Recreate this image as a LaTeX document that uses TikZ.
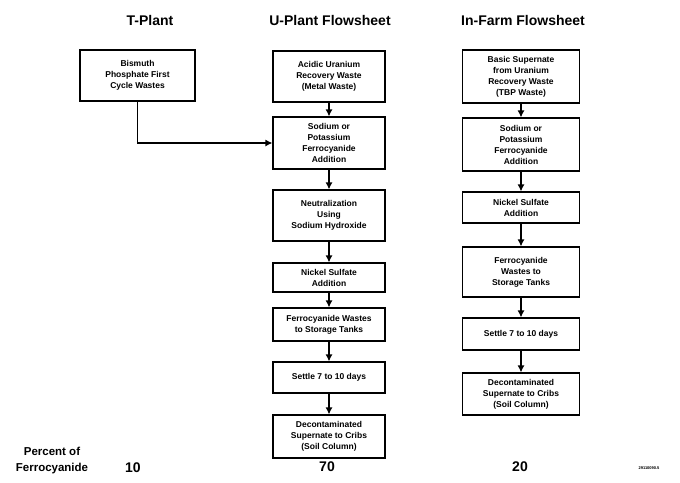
\documentclass[tikz,border=0pt]{standalone}
\usepackage{fontspec}
\setmainfont{Liberation Sans}
\usetikzlibrary{arrows.meta}

\begin{document}
\begin{tikzpicture}[x=1pt,y=-1pt,
		box/.style={draw, line width=1.2pt, align=center, inner sep=1pt, font=\bfseries\fontsize{8.5}{11}\selectfont},
		tbox/.style={box, minimum width=115pt},
		ubox/.style={box, minimum width=112pt},
		fbox/.style={box, minimum width=117pt},
		head/.style={font=\bfseries\fontsize{14}{16}\selectfont},
		flow/.style={line width=1.2pt, -{Latex[length=7pt,width=7pt]}}]
			\useasboundingbox (0,0) rectangle (680,482);
			\node[head] (thead) at (150,20) {T-Plant};
			\node[head] (uhead) at (330,20) {U-Plant Flowsheet};
			\node[head] (fhead) at (523,20) {In-Farm Flowsheet};

			\node[tbox, minimum height=51pt] (tplant) at (137.5,75.5) {Bismuth\\Phosphate First\\Cycle Wastes};

			\node[ubox, minimum height=51pt] (uwaste) at (329,76.5) {Acidic Uranium\\Recovery Waste\\(Metal Waste)};
			\node[ubox, minimum height=52pt] (uferro) at (329,143) {Sodium or\\Potassium\\Ferrocyanide\\Addition};
			\node[ubox, minimum height=51pt] (uneut) at (329,215.5) {Neutralization\\Using\\Sodium Hydroxide};
			\node[ubox, minimum height=29pt] (unickel) at (329,277.5) {Nickel Sulfate\\Addition};
			\node[ubox, minimum height=33pt] (utanks) at (329,324.5) {Ferrocyanide Wastes\\to Storage Tanks};
			\node[ubox, minimum height=31pt] (usettle) at (329,377.5) {Settle 7 to 10 days};
			\node[ubox, minimum height=43pt] (ucribs) at (329,436.5) {Decontaminated\\Supernate to Cribs\\(Soil Column)};

			\node[fbox, minimum height=53pt] (fwaste) at (521,76.5) {Basic Supernate\\from Uranium\\Recovery Waste\\(TBP Waste)};
			\node[fbox, minimum height=53pt] (fferro) at (521,144.5) {Sodium or\\Potassium\\Ferrocyanide\\Addition};
			\node[fbox, minimum height=31pt] (fnickel) at (521,207.5) {Nickel Sulfate\\Addition};
			\node[fbox, minimum height=50pt] (ftanks) at (521,272) {Ferrocyanide\\Wastes to\\Storage Tanks};
			\node[fbox, minimum height=32pt] (fsettle) at (521,334) {Settle 7 to 10 days};
			\node[fbox, minimum height=42pt] (fcribs) at (521,394) {Decontaminated\\Supernate to Cribs\\(Soil Column)};

			\draw[flow] (tplant.south) |- (uferro.west);
			\draw[flow] (uwaste) -- (uferro);
			\draw[flow] (uferro) -- (uneut);
			\draw[flow] (uneut) -- (unickel);
			\draw[flow] (unickel) -- (utanks);
			\draw[flow] (utanks) -- (usettle);
			\draw[flow] (usettle) -- (ucribs);
			\draw[flow] (fwaste) -- (fferro);
			\draw[flow] (fferro) -- (fnickel);
			\draw[flow] (fnickel) -- (ftanks);
			\draw[flow] (ftanks) -- (fsettle);
			\draw[flow] (fsettle) -- (fcribs);

			\node[align=center, font=\bfseries\fontsize{11.5}{16}\selectfont] (percent) at (52,461) {Percent of\\Ferrocyanide};
			\node[head] (tpct) at (133,468) {10};
			\node[head] (upct) at (327,467) {70};
			\node[head] (fpct) at (520,467) {20};
			\node[font=\bfseries\fontsize{4}{5}\selectfont] (code) at (649,468) {29110090.5};
		\end{tikzpicture}
\end{document}
